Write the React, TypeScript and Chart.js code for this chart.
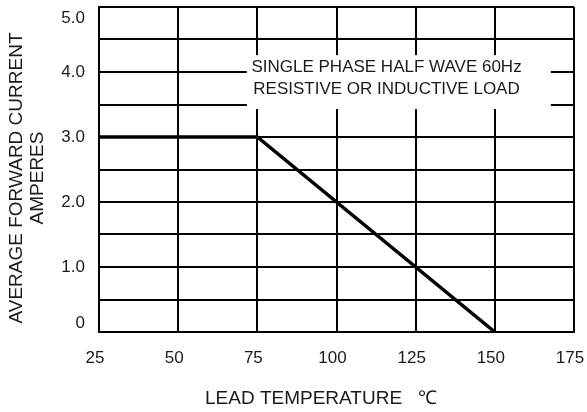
import React, { useEffect, useRef } from 'react';
import { Chart, registerables } from 'chart.js';

Chart.register(...registerables);

// ---- data ----
const temperatures = [25, 75, 150];
const currents = [3.0, 3.0, 0];
const xTickValues = [25, 50, 75, 100, 125, 150, 175];
const yLabelValues = [0, 1, 2, 3, 4, 5];
const yLabelTexts = ['0', '1.0', '2.0', '3.0', '4.0', '5.0'];
const noteLines = ['SINGLE PHASE HALF WAVE 60Hz', 'RESISTIVE OR INDUCTIVE LOAD'];
const yTitleLines = ['AVERAGE FORWARD CURRENT', 'AMPERES'];
const xTitle = 'LEAD TEMPERATURE';
const xUnit = '℃';

// annotation box placement (data units)
const NOTE_BOX = { x0: 71.7, x1: 167.7, yTop: 4.26, yBottom: 3.43 };
const NOTE_TEXT = { x: 115.8, y1: 4.077, y2: 3.74 };

const FONT = '"Liberation Sans", Arial, sans-serif';
const TEXT_COLOR = '#1a1a1a';

const overlayPlugin = {
  id: 'overlay',
  beforeDatasetsDraw(chart: any) {
    const { ctx, scales } = chart;
    const x = scales.x;
    const y = scales.y;
    ctx.save();
    const l = x.getPixelForValue(NOTE_BOX.x0);
    const r = x.getPixelForValue(NOTE_BOX.x1);
    const t = y.getPixelForValue(NOTE_BOX.yTop);
    const b = y.getPixelForValue(NOTE_BOX.yBottom);
    ctx.fillStyle = '#ffffff';
    ctx.fillRect(l, t, r - l, b - t);
    ctx.fillStyle = TEXT_COLOR;
    ctx.font = `17px ${FONT}`;
    ctx.textAlign = 'center';
    ctx.textBaseline = 'middle';
    const cx = x.getPixelForValue(NOTE_TEXT.x);
    ctx.fillText(noteLines[0], cx, y.getPixelForValue(NOTE_TEXT.y1));
    ctx.fillText(noteLines[1], cx, y.getPixelForValue(NOTE_TEXT.y2));
    ctx.restore();
  },
  afterDraw(chart: any) {
    const { ctx, scales, chartArea } = chart;
    const y = scales.y;
    ctx.save();
    ctx.fillStyle = TEXT_COLOR;
    // y tick labels
    ctx.font = `17px ${FONT}`;
    ctx.textAlign = 'right';
    ctx.textBaseline = 'middle';
    yLabelValues.forEach((v, i) => {
      let py = y.getPixelForValue(v);
      py = Math.min(Math.max(py, chartArea.top + 11), chartArea.bottom - 9);
      ctx.fillText(yLabelTexts[i], chartArea.left - 14, py);
    });
    // x title
    ctx.font = `19px ${FONT}`;
    ctx.textAlign = 'left';
    ctx.fillText(xTitle, 205, 399);
    ctx.fillText(xUnit, 418, 399);
    // y title (rotated)
    ctx.translate(0, 178);
    ctx.rotate(-Math.PI / 2);
    ctx.textAlign = 'center';
    ctx.fillText(yTitleLines[0], 0, 17);
    ctx.fillText(yTitleLines[1], 0, 38);
    ctx.restore();
  },
};

export default function App() {
  const ref = useRef<HTMLCanvasElement | null>(null);
  useEffect(() => {
    document.body.style.margin = '0';
    const canvas = ref.current;
    if (!canvas) return;
    const chart = new Chart(canvas, {
      type: 'line',
      data: {
        datasets: [
          {
            data: temperatures.map((t, i) => ({ x: t, y: currents[i] })),
            borderColor: '#000',
            borderWidth: 3.5,
            pointRadius: 0,
            tension: 0,
            fill: false,
          },
        ],
      },
      options: {
        responsive: false,
        animation: false,
        events: [],
        layout: { padding: { top: 7, right: 13, left: 0, bottom: 0 } },
        plugins: { legend: { display: false }, tooltip: { enabled: false } },
        scales: {
          x: {
            type: 'linear',
            min: 25,
            max: 175,
            afterFit: (s: any) => {
              s.height = 80;
              s.paddingLeft = 0;
              s.paddingRight = 0;
            },
            afterBuildTicks: (s: any) => {
              s.ticks = xTickValues.map((v) => ({ value: v }));
            },
            grid: { color: '#000', lineWidth: 2, drawTicks: false },
            border: { display: true, color: '#000', width: 2 },
            ticks: {
              color: TEXT_COLOR,
              font: { family: FONT, size: 17 },
              padding: 16,
              labelOffset: -4,
              maxRotation: 0,
              autoSkip: false,
              callback: (v: any) => String(v),
            },
          },
          y: {
            type: 'linear',
            min: 0,
            max: 5,
            afterFit: (s: any) => {
              s.width = 99;
              s.paddingTop = 0;
              s.paddingBottom = 0;
            },
            grid: { color: '#000', lineWidth: 2, drawTicks: false },
            border: { display: true, color: '#000', width: 2 },
            ticks: { display: false, stepSize: 0.5 },
          },
        },
      },
      plugins: [overlayPlugin],
    });
    return () => chart.destroy();
  }, []);
  return <canvas ref={ref} width={587} height={412} style={{ display: 'block' }} />;
}
